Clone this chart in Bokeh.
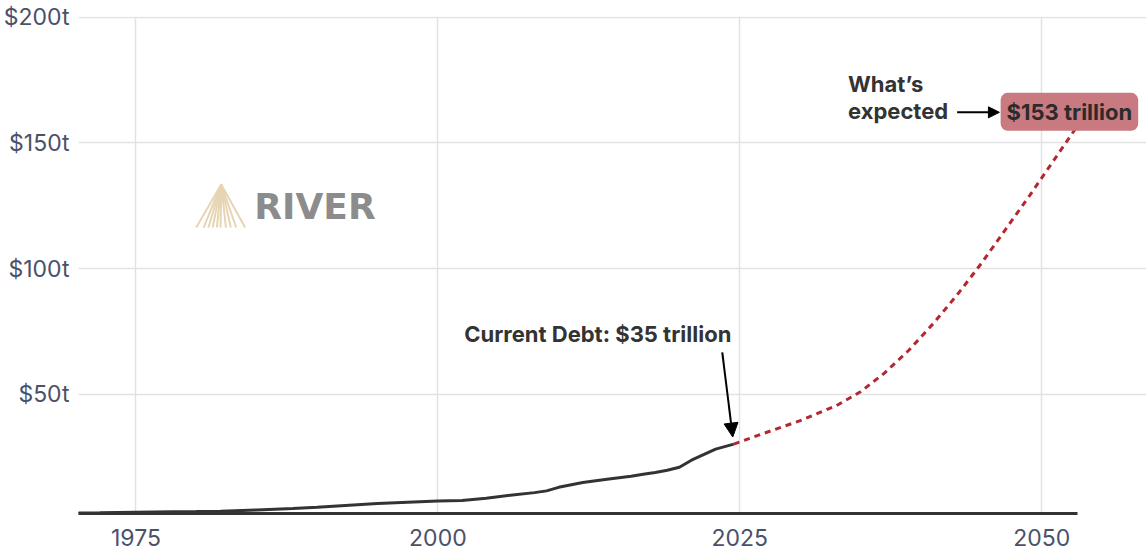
from bokeh.plotting import figure
from bokeh.models import FixedTicker, PrintfTickFormatter, Label, Arrow, NormalHead, Range1d
from bokeh.embed import file_html
from bokeh.resources import INLINE

# ---- data (US federal debt, trillions of dollars) ----
hist_years = [1970, 1972, 1975, 1978, 1980, 1982, 1985, 1988, 1990, 1993, 1995, 1997,
              2000, 2002, 2004, 2006, 2008, 2009, 2010, 2012, 2014, 2016, 2017, 2018,
              2019, 2020, 2021, 2022, 2023, 2024.5]
hist_debt = [2.8, 2.9, 3.1, 3.25, 3.35, 3.5, 4.0, 4.6, 5.1, 6.0, 6.6, 7.0,
             7.6, 7.8, 8.7, 9.9, 10.9, 11.6, 13.0, 14.9, 16.2, 17.4, 18.2, 18.9,
             19.8, 21.0, 23.8, 26.0, 28.2, 30.2]

proj_years = [2024.5, 2027, 2030, 2033, 2035, 2037, 2039, 2041, 2043, 2045, 2047, 2049, 2051, 2053]
proj_debt = [30.2, 34.5, 39.5, 45.5, 51, 58.5, 67.5, 78, 89.5, 102, 115.5, 129, 143, 157]

x_ticks = [1975, 2000, 2025, 2050]
y_ticks = [50, 100, 150, 200]

current_label = "Current Debt: $35 trillion"
expected_label = ["What\u2019s", "expected"]
expected_value = "$153 trillion"
brand = "RIVER"

FONT = "Inter"
TICK_COLOR = "#4b5168"
TEXT_COLOR = "#333333"

X0, X1 = 1970.24, 2052.98      # extent of the drawn axis / grid
XR = 2058.68                   # frame extends to canvas edge so labels are not clipped

p = figure(width=1146, height=554, output_backend="svg", toolbar_location=None,
           x_range=Range1d(X0, XR), y_range=Range1d(2.6, 200.2),
           min_border_left=76, min_border_right=0, min_border_top=16, min_border_bottom=41)
p.outline_line_color = None
p.background_fill_color = "white"
p.border_fill_color = "white"

# grid
p.xgrid.ticker = FixedTicker(ticks=x_ticks)
p.ygrid.ticker = FixedTicker(ticks=y_ticks)
p.ygrid.bounds = (X0, X1)
for g in (p.xgrid, p.ygrid):
    g.grid_line_color = "#e2e2e2"
    g.grid_line_width = 1.5

# axes
p.yaxis.ticker = FixedTicker(ticks=y_ticks)
p.yaxis.formatter = PrintfTickFormatter(format="$%dt")
p.xaxis.ticker = FixedTicker(ticks=x_ticks)
p.xaxis.formatter = PrintfTickFormatter(format="%d")
p.xaxis.bounds = (X0, X1)
for ax in (p.xaxis, p.yaxis):
    ax.major_tick_line_color = None
    ax.minor_tick_line_color = None
    ax.major_tick_out = 0
    ax.major_tick_in = 0
    ax.major_label_text_font = FONT
    ax.major_label_text_font_size = "23px"
    ax.major_label_text_color = TICK_COLOR
p.yaxis.axis_line_color = None
p.yaxis.major_label_standoff = 9
p.xaxis.axis_line_color = "#333333"
p.xaxis.axis_line_width = 3
p.xaxis.major_label_standoff = 15

# watermark logo (decoration)
apex_x, apex_y, base_y = 1982.06, 133.4, 116.3
base_xs = [1979.99, 1980.6, 1981.0, 1981.35, 1981.7, 1982.0, 1982.45, 1982.85, 1983.3, 1984.04]
p.segment(x0=[apex_x] * len(base_xs), y0=[apex_y] * len(base_xs), x1=base_xs,
          y1=[base_y] * len(base_xs), line_color="#e6d4b2", line_width=2)
p.add_layout(Label(x=1984.8, y=124.8, text=brand, text_font="DejaVu Sans", text_font_style="bold",
                   text_font_size="36px", text_color="#8c8c8c", text_baseline="middle"))

# data lines
p.line(hist_years, hist_debt, line_color="#333333", line_width=3)
p.line(proj_years, proj_debt, line_color="#b5272f", line_width=3, line_dash="6 5")

# annotation: current debt
p.add_layout(Label(x=2024.3, y=74.0, text=current_label, text_font=FONT, text_font_style="bold",
                   text_font_size="22px", text_color=TEXT_COLOR, text_align="right",
                   text_baseline="middle"))
p.add_layout(Arrow(x_start=hist_years[-1] - 0.95, y_start=66.7,
                   x_end=hist_years[-1] - 0.08, y_end=hist_debt[-1] + 2.8,
                   line_color="black", line_width=2,
                   end=NormalHead(size=14, fill_color="black", line_color="black")))

# annotation: expected
p.add_layout(Label(x=2033.96, y=173.5, text=expected_label[0], text_font=FONT, text_font_style="bold",
                   text_font_size="22px", text_color=TEXT_COLOR, text_baseline="middle"))
p.add_layout(Label(x=2033.96, y=162.6, text=expected_label[1], text_font=FONT, text_font_style="bold",
                   text_font_size="22px", text_color=TEXT_COLOR, text_baseline="middle"))
p.add_layout(Arrow(x_start=2043.0, y_start=162.1, x_end=2046.5, y_end=162.1,
                   line_color="black", line_width=2,
                   end=NormalHead(size=11, fill_color="black", line_color="black")))
p.add_layout(Label(x=2046.6, y=162.3, text=expected_value, text_font=FONT, text_font_style="bold",
                   text_font_size="22px", text_color="#2b2b2b", text_baseline="middle",
                   background_fill_color="#c97a80", padding=6, border_radius=7))

open("out.html", "w").write(file_html(p, INLINE))
